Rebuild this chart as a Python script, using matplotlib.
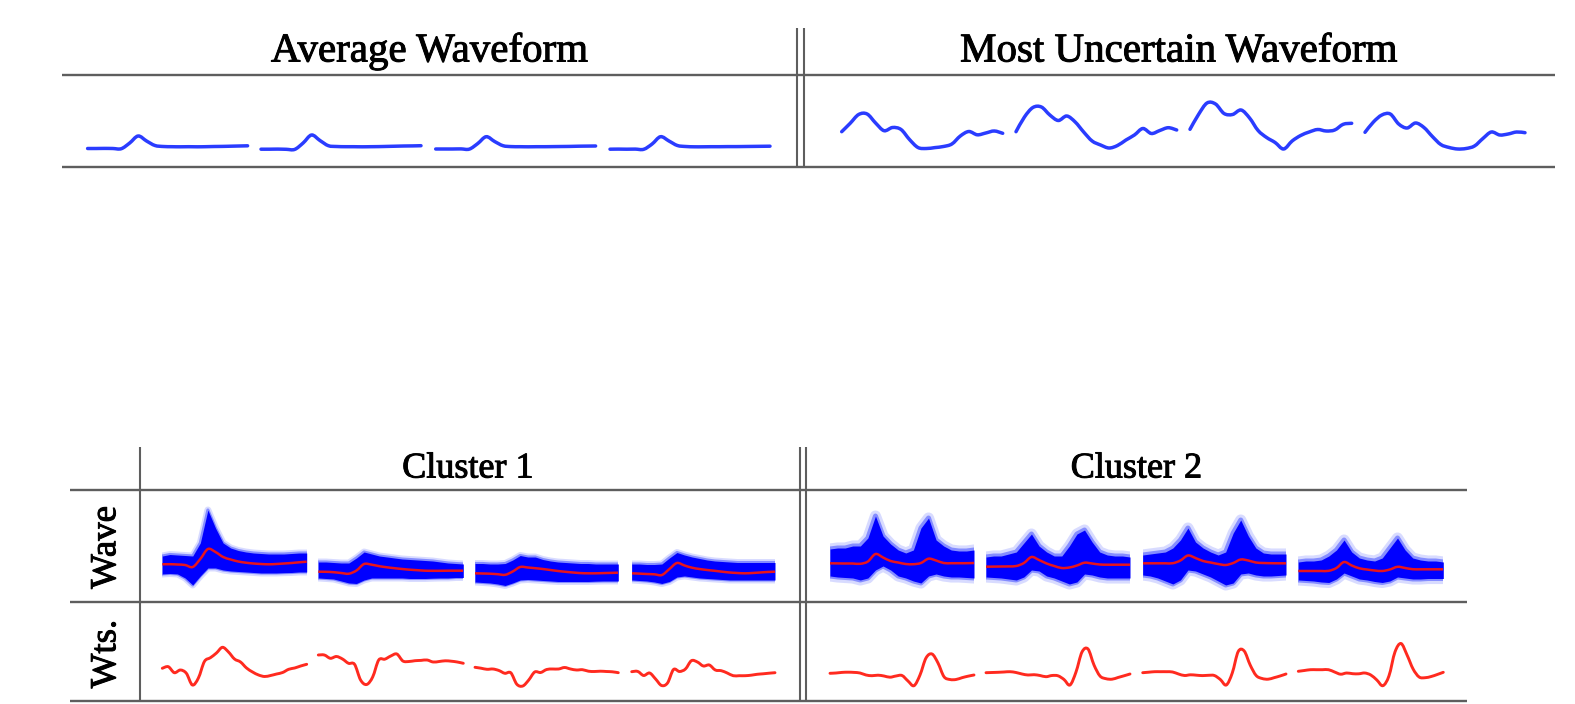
import matplotlib.pyplot as plt
import matplotlib.patheffects as pe
import numpy as np
from matplotlib.path import Path
from matplotlib.patches import PathPatch

plt.rcParams['font.family'] = ['Liberation Serif', 'DejaVu Serif']

FIG_W, FIG_H = 1575, 704

# top table: average waveform of each of the 4 channels, and the most uncertain one
avg_waveform = [
    [17.5, 17.5, 17.6, 17.5, 17.3, 23, 30, 25, 20.5, 19.5, 19.3, 19.2, 19.3, 19.2, 19.3, 19.5, 19.6, 19.8, 20, 20.2],
    [16.8, 16.8, 16.9, 16.7, 16.6, 23, 31, 25.5, 20.3, 19.5, 19.3, 19.3, 19.2, 19.3, 19.4, 19.6, 19.8, 20, 20.1, 20.3],
    [17, 17, 17, 17.1, 16.9, 22.5, 29.3, 24.5, 20.3, 19.4, 19.3, 19.2, 19.3, 19.3, 19.4, 19.5, 19.6, 19.8, 19.9, 20],
    [16.8, 16.9, 16.8, 16.9, 16.7, 22, 29.3, 25, 20.5, 19.5, 19.2, 19.2, 19.3, 19.3, 19.4, 19.4, 19.5, 19.6, 19.7, 19.8],
]
uncertain_waveform = [
    [34.3, 42.7, 51.5, 52, 43, 35.3, 38.5, 36.5, 26.5, 18.5, 17.5, 18.4, 19.5, 22, 30, 34.5, 31.2, 33, 35, 32.7],
    [34.3, 49, 58.5, 59, 51, 45.5, 50, 44, 34, 25, 21, 18, 20.5, 26, 31, 37.5, 32.5, 35.5, 38.3, 36],
    [36.7, 51.5, 63, 62, 52.5, 51.5, 56, 48, 35.5, 28.5, 23.5, 17, 25, 30.5, 34, 36.5, 35, 36, 41.7, 42.7],
    [33.7, 44, 51, 52, 42, 38, 43, 38.5, 29.5, 21.5, 18.5, 17, 17.5, 20, 27.5, 34, 31, 32, 34, 33.3],
]

# bottom table: spread (dense envelope) of member waveforms and their mean
cluster1_mean = [
    [33.7, 33.8, 33.5, 33, 31, 39, 49, 46, 41, 38.5, 36.5, 35.3, 34.5, 34, 33.7, 34, 34.5, 35, 35.7, 36.3],
    [26.3, 26.2, 25.8, 25, 24.3, 27.5, 34, 33.3, 31.8, 30.7, 29.8, 29, 28.3, 27.8, 27.3, 27.2, 27.2, 27.3, 27.3, 27.3],
    [24.7, 24.5, 24.3, 23.8, 23.2, 26.5, 31, 30.5, 29.8, 29, 28, 27, 26.2, 25.5, 24.9, 24.7, 24.7, 24.9, 25.1, 25.3],
    [24.7, 24.4, 24, 23.7, 23, 29, 35, 32.5, 30.3, 29, 28, 27.2, 26.3, 25.5, 25, 24.7, 25, 25.5, 26, 26.3],
]
cluster1_upper = [
    [42, 43.5, 43, 42.5, 42, 55, 88, 70, 55, 50, 47.5, 46, 45, 44.5, 44, 44, 44, 44.5, 45, 45],
    [36, 36, 35.5, 35, 35, 40, 46, 44, 42, 41, 40, 39, 38.5, 38, 37.5, 37, 36, 35, 34.5, 34],
    [34.5, 34.5, 34, 34, 34.5, 38, 42.5, 41, 41, 38.5, 37, 36, 35.5, 35, 34.5, 34.5, 34, 34, 34, 34],
    [34, 34, 33.5, 33.5, 34, 40, 45.5, 43, 41, 39.5, 38, 37, 36.5, 36, 35.5, 35.5, 35.5, 35.5, 35.5, 35.5],
]
cluster1_lower = [
    [24, 24.5, 24, 20, 13, 22, 30, 30, 28, 27, 26.5, 26, 25.5, 25, 25, 25, 25.3, 25.5, 26, 26],
    [20, 19.5, 19, 17, 15, 14.5, 18, 20, 20, 20, 20, 20, 19.5, 19.5, 19.5, 19.8, 20, 20, 20.5, 20.5],
    [16, 15.5, 15, 14, 12.5, 15, 18, 18.5, 18, 17.5, 17, 16.5, 16.5, 16.5, 16.5, 16.5, 16.8, 17, 17, 17],
    [18, 17.5, 17, 16, 14.5, 16.5, 21, 22, 21, 20, 19.5, 19, 18.5, 18, 18, 18, 18, 18, 18, 18],
]
cluster2_mean = [
    [34.7, 34.6, 34.5, 34.5, 34.2, 36.5, 44, 40.5, 37, 35.5, 34, 33.8, 35, 39.3, 37.5, 35, 34.8, 34.8, 34.8, 35],
    [31.3, 31.4, 31.5, 31.6, 32, 35, 41, 38, 34.5, 32, 30, 30.5, 32.5, 35.3, 34.5, 33.5, 33.3, 33.3, 33.3, 33.3],
    [34.7, 34.7, 34.7, 34.7, 34.8, 37.5, 42.5, 40, 37, 35.5, 34, 33, 35, 38.5, 37.5, 35.5, 35, 34.8, 34.7, 34.7],
    [27, 27, 27, 27, 27.2, 30, 36, 32.5, 29.7, 28.5, 27.5, 27, 28.5, 31.2, 30, 28.8, 28.7, 28.7, 28.7, 28.7],
]
cluster2_upper = [
    [49, 50, 50, 52, 52, 60, 82, 62, 54, 48, 45, 48, 70, 80, 58, 52, 48, 47, 47, 48],
    [41, 42, 42, 44, 46, 55, 64, 52, 46, 42, 42, 52, 64, 68, 56, 46, 43, 42, 42, 41],
    [43, 44, 45, 46, 50, 58, 70, 56, 50, 46, 43, 46, 65, 78, 62, 50, 45, 44, 44, 44],
    [36, 37, 37, 38, 42, 48, 58, 46, 40, 38, 37, 40, 50, 60, 48, 40, 38, 37, 37, 36],
]
cluster2_lower = [
    [22, 21, 20.5, 20, 18, 20, 28, 32, 28, 22, 20, 17, 15, 22, 24, 22, 21, 21, 20.5, 20],
    [21, 20.5, 20, 19, 18, 21, 28, 27, 22, 20, 17, 14, 16, 24, 23, 21, 20, 20, 20, 20],
    [23, 22, 20, 17, 14, 18, 28, 27, 24, 21, 17, 13, 15, 24, 25, 23, 22, 22, 22.5, 23],
    [18, 17.5, 17, 16, 15.5, 19, 25, 22, 19, 18, 16.5, 15.5, 17, 21, 20, 19, 19, 19.5, 19.5, 19.5],
]
cluster1_weights = [
    [28.7, 30.3, 24.3, 27, 23.7, 12, 19, 35.5, 39.3, 44, 49.7, 45, 38, 35, 29, 25, 22, 20.5, 21.5, 23, 24.5, 27.7, 29, 31, 32.7],
    [42, 42, 38.7, 40.5, 38, 33.7, 32.7, 17, 12.5, 20, 37, 37.8, 41, 43, 36, 35.5, 36.3, 36.6, 37, 35, 35.5, 36.2, 35.8, 35, 33.7],
    [29.7, 28.8, 27.7, 28, 26.5, 23.7, 24.2, 12.8, 11, 17, 25, 24.5, 27.5, 28, 28, 29.5, 28, 27, 27.3, 25.8, 25.5, 25.8, 25.5, 25.2, 24.3],
    [25.3, 25.6, 21.5, 24, 18, 11.5, 14, 27.5, 25.5, 28, 36.3, 35, 31, 32, 27, 26.3, 24, 21.3, 21.3, 21.3, 21.8, 22.7, 23.2, 23.8, 24.3],
]
cluster2_weights = [
    [23.7, 24, 24.6, 24.8, 24.6, 24, 22, 21.3, 21.8, 21, 19.8, 21, 21.5, 16, 11.3, 22, 39, 43, 34, 20.3, 17.5, 17.5, 19.3, 20.8, 22],
    [24.3, 24.5, 24.7, 25, 25.3, 24.5, 23, 22, 22.3, 21.5, 20.3, 21.5, 21.2, 17.5, 12, 25, 45, 48, 32, 21, 18.3, 17.8, 19.5, 21.2, 23],
    [24.3, 24.8, 25.3, 25.3, 25.3, 25, 23, 21.5, 22.2, 21.8, 21.4, 21.7, 21.5, 17.5, 12, 24, 45.5, 46, 32, 21.5, 18.5, 17.8, 19.3, 21, 23],
    [25.7, 26.5, 27.3, 27.3, 27.3, 27.3, 25, 22.8, 24, 23.3, 23.2, 24, 22, 17, 11.3, 21, 45, 53.5, 42, 28, 20, 19.3, 20.5, 22.5, 24.7],
]

top_titles = ['Average Waveform', 'Most Uncertain Waveform']
cluster_titles = ['Cluster 1', 'Cluster 2']
row_labels = ['Wave', 'Wts.']

# layout, in pixels of the output image
avg_spans = [(87.6, 247.6), (261, 421), (435.7, 595.6), (610, 770)]
unc_spans = [(841.7, 1002.7), (1016, 1176.7), (1190, 1351.7), (1365, 1525)]
c1_spans = [(162.3, 306.7), (318.3, 463.3), (475, 618.3), (631.7, 775)]
c2_spans = [(830, 974), (986, 1130), (1142.7, 1286), (1298.3, 1443.3)]

LINE_BLUE = '#2a3cff'
BAND_BLUE = '#0000ff'
RED = '#ff2a1f'
RULE = '#5e5e5e'
TEXT_FX = [pe.withStroke(linewidth=0.7, foreground='black')]


def add_cell(fig, span, y_bot, y_top, n):
    x0, x1 = span
    ax = fig.add_axes([x0 / FIG_W, 1 - y_bot / FIG_H,
                       (x1 - x0) / FIG_W, (y_bot - y_top) / FIG_H])
    ax.set_xlim(0, n - 1)
    ax.set_ylim(0, y_bot - y_top)
    ax.axis('off')
    return ax


def smooth_path(values):
    # bezier curve through the samples (catmull-rom control points)
    y = np.asarray(values, dtype=float)
    x = np.arange(len(y), dtype=float)
    pts = np.column_stack([x, y])
    pad = np.vstack([pts[:1], pts, pts[-1:]])
    verts = [pts[0]]
    codes = [Path.MOVETO]
    for i in range(len(pts) - 1):
        p0, p1, p2, p3 = pad[i], pad[i + 1], pad[i + 2], pad[i + 3]
        verts += [p1 + (p2 - p0) / 6, p2 - (p3 - p1) / 6, p2]
        codes += [Path.CURVE4] * 3
    return Path(verts, codes)


def draw_line(fig, span, y_bot, y_top, values, color, lw):
    ax = add_cell(fig, span, y_bot, y_top, len(values))
    ax.add_patch(PathPatch(smooth_path(values), facecolor='none', edgecolor=color,
                           lw=lw, capstyle='round', joinstyle='round', clip_on=False))


def draw_band(fig, span, y_bot, y_top, mean, upper, lower, halo):
    ax = add_cell(fig, span, y_bot, y_top, len(mean))
    t = np.arange(len(mean))
    ax.fill_between(t, lower, upper, facecolor='none',
                    edgecolor=(0.4, 0.45, 1.0, 0.25), linewidth=halo)
    ax.fill_between(t, lower, upper, facecolor='none',
                    edgecolor=(0.2, 0.25, 1.0, 0.5), linewidth=halo * 0.45)
    ax.fill_between(t, lower, upper, color=BAND_BLUE, linewidth=0)
    ax.add_patch(PathPatch(smooth_path(mean), facecolor='none', edgecolor='#e8141c',
                           lw=1.8, joinstyle='round'))


fig = plt.figure(figsize=(FIG_W / 100, FIG_H / 100), dpi=100)

# table rules and text
grid = fig.add_axes([0, 0, 1, 1])
grid.set_xlim(0, FIG_W)
grid.set_ylim(FIG_H, 0)
grid.axis('off')
grid.hlines([75, 166.5], 62, 1555, color=RULE, lw=1.7)
grid.vlines([797, 804], 28, 166.5, color=RULE, lw=1.5)
grid.hlines([490, 601.5, 701], 70, 1467, color=RULE, lw=1.7)
grid.vlines([139.5], 447, 701, color=RULE, lw=1.5)
grid.vlines([799.5, 806], 447, 701, color=RULE, lw=1.5)

grid.text(429.6, 61.5, top_titles[0], fontsize=29.5, ha='center', va='baseline', path_effects=TEXT_FX)
grid.text(1179, 61.5, top_titles[1], fontsize=29.5, ha='center', va='baseline', path_effects=TEXT_FX)
grid.text(468, 477.5, cluster_titles[0], fontsize=26, ha='center', va='baseline', path_effects=TEXT_FX)
grid.text(1136.6, 477.5, cluster_titles[1], fontsize=26, ha='center', va='baseline', path_effects=TEXT_FX)
grid.text(106, 547.5, row_labels[0], fontsize=26.5, rotation=90, ha='center', va='center', path_effects=TEXT_FX)
grid.text(106, 654, row_labels[1], fontsize=26.5, rotation=90, ha='center', va='center', path_effects=TEXT_FX)

for span, w in zip(avg_spans, avg_waveform):
    draw_line(fig, span, 166, 75, w, LINE_BLUE, 2.5)
for span, w in zip(unc_spans, uncertain_waveform):
    draw_line(fig, span, 166, 75, w, LINE_BLUE, 2.5)

for span, m, u, l in zip(c1_spans, cluster1_mean, cluster1_upper, cluster1_lower):
    draw_band(fig, span, 598, 490, m, u, l, 5)
for span, m, u, l in zip(c2_spans, cluster2_mean, cluster2_upper, cluster2_lower):
    draw_band(fig, span, 598, 490, m, u, l, 8)

for span, w in zip(c1_spans, cluster1_weights):
    draw_line(fig, span, 697, 601.5, w, RED, 2.1)
for span, w in zip(c2_spans, cluster2_weights):
    draw_line(fig, span, 697, 601.5, w, RED, 2.1)

fig.savefig('out.png', dpi=100)
